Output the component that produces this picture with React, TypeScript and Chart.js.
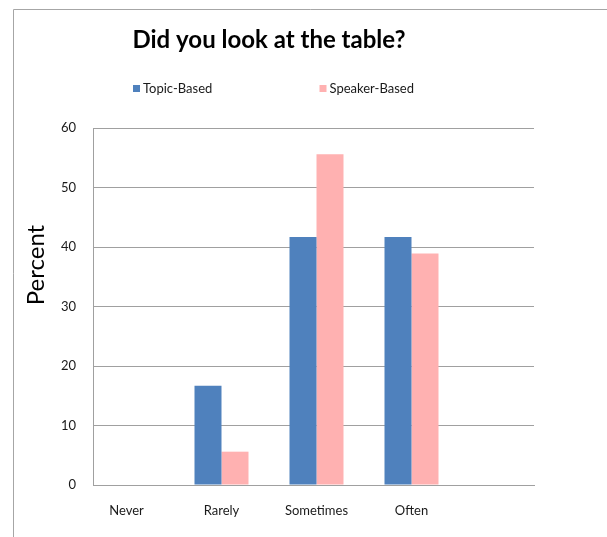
import React, { useEffect, useRef } from "react";
import { Chart, registerables } from "chart.js";

Chart.register(...registerables);

const title = "Did you look at the table?";
const categories = ["Never", "Rarely", "Sometimes", "Often"];
const seriesNames = ["Topic-Based", "Speaker-Based"];
const topicBased = [0, 16.7, 41.7, 41.7];
const speakerBased = [0, 5.6, 55.6, 38.9];
const yTicks = [0, 10, 20, 30, 40, 50, 60];
const yTitle = "Percent";
const colors = ["#4F81BD", "#FFB1B1"];

const FONT = "Lato, 'Noto Sans', sans-serif";

const decorPlugin = {
  id: "decor",
  afterDraw(chart: any) {
    const ctx = chart.ctx as CanvasRenderingContext2D;
    ctx.save();
    // outer border
    ctx.strokeStyle = "#a6a6a6";
    ctx.lineWidth = 1;
    ctx.beginPath();
    ctx.moveTo(13.5, 537);
    ctx.lineTo(13.5, 9.5);
    ctx.lineTo(607, 9.5);
    ctx.stroke();
    // title
    ctx.fillStyle = "#000";
    ctx.font = `bold 24px ${FONT}`;
    ctx.textAlign = "center";
    ctx.textBaseline = "alphabetic";
    ctx.fillText(title, 269, 48);
    // legend
    const legendX = [133, 319.5];
    chart.data.datasets.forEach((ds: any, i: number) => {
      ctx.fillStyle = ds.backgroundColor;
      ctx.fillRect(legendX[i], 85, 7, 7);
      ctx.fillStyle = "#1a1a1a";
      ctx.font = `13px ${FONT}`;
      ctx.textAlign = "left";
      ctx.textBaseline = "middle";
      ctx.fillText(ds.label, legendX[i] + 10, 89);
    });
    // y title
    ctx.translate(36, 265);
    ctx.rotate(-Math.PI / 2);
    ctx.fillStyle = "#000";
    ctx.font = `24px ${FONT}`;
    ctx.textAlign = "center";
    ctx.textBaseline = "middle";
    ctx.fillText(yTitle, 0, 0);
    ctx.restore();
  },
};

export default function App() {
  const ref = useRef<HTMLCanvasElement>(null);
  useEffect(() => {
    if (!ref.current) return;
    const chart = new Chart(ref.current, {
      type: "bar",
      data: {
        datasets: [
          {
            label: seriesNames[0],
            data: topicBased.map((v, i) => ({ x: i, y: v })),
            backgroundColor: colors[0],
            barThickness: 27,
            inflateAmount: 0,
          },
          {
            label: seriesNames[1],
            data: speakerBased.map((v, i) => ({ x: i, y: v })),
            backgroundColor: colors[1],
            barThickness: 27,
            inflateAmount: 0,
          },
        ],
      },
      options: {
        responsive: false,
        animation: false,
        layout: { padding: { left: 0, top: 128, right: 73, bottom: 0 } },
        plugins: {
          legend: { display: false },
          title: { display: false },
          tooltip: { enabled: false },
        },
        scales: {
          x: {
            type: "linear",
            offset: false,
            min: -0.3526,
            max: 4.2895,
            grid: { display: false, drawTicks: false, offset: false },
            border: { display: true, color: "#a0a0a0", width: 1 },
            afterBuildTicks: (scale: any) => {
              scale.ticks = categories.map((_, i) => ({ value: i }));
            },
            afterFit: (scale: any) => {
              scale.height = 52;
            },
            ticks: {
              autoSkip: false,
              maxRotation: 0,
              padding: 18,
              color: "#1a1a1a",
              font: { family: FONT, size: 13 },
              callback: (v: any) => categories[v] ?? "",
            },
          },
          y: {
            min: 0,
            max: 60,
            afterBuildTicks: (scale: any) => {
              scale.ticks = yTicks.map((v) => ({ value: v }));
            },
            afterFit: (scale: any) => {
              scale.width = 93;
            },
            grid: { color: "#a0a0a0", drawTicks: false, lineWidth: 1 },
            border: { display: true, color: "#a0a0a0", width: 1 },
            ticks: {
              padding: 17,
              color: "#1a1a1a",
              font: { family: FONT, size: 13 },
            },
          },
        },
      },
      plugins: [decorPlugin],
    });
    return () => chart.destroy();
  }, []);
  return (
    <div style={{ position: "absolute", left: 0, top: 0, width: 607, height: 537, background: "#fff" }}>
      <canvas ref={ref} width={607} height={537} />
    </div>
  );
}
